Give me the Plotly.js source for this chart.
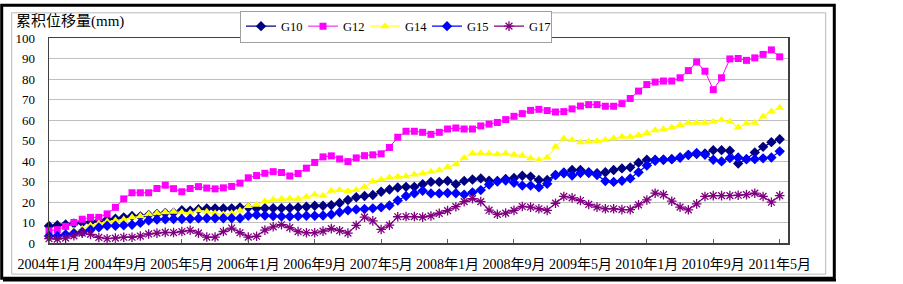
<!DOCTYPE html>
<html>
<head>
<meta charset="utf-8">
<script src="https://cdn.plot.ly/plotly-3.0.1.min.js"></script>
<style>
  html, body { margin: 0; padding: 0; background: #ffffff; }
  #chart { width: 903px; height: 284px; }
</style>
</head>
<body>
<div id="chart"></div>
<script>
// ---- data ----
const tickLabels = ["2004年1月","2004年9月","2005年5月","2006年1月","2006年9月","2007年5月",
                    "2008年1月","2008年9月","2009年5月","2010年1月","2010年9月","2011年5月"];

// monthly categories, 2004年1月 .. 2011年5月
const categories = [];
for (let y = 2004; y <= 2011; y++) {
  for (let m = 1; m <= 12; m++) {
    if (y === 2011 && m > 5) break;
    categories.push(y + "年" + m + "月");
  }
}

const seriesNames = ["G10", "G12", "G14", "G15", "G17"];

const g10 = [8.3,8.7,9.0,9.5,10,10.3,10.8,11.5,11.8,12.5,13.2,13,13.7,14.2,14.6,14.8,16,15.8,16.5,16.8,
             16.9,16.8,16.9,17.4,17.3,16.9,17,17,17,17.1,17.4,17.7,18.2,18.2,18.5,19.5,21,22.3,22.9,23.4,
             25,26.1,27.1,27.4,27.4,28.7,29.8,29.8,30.3,28.7,30.3,31,31.5,30.4,30.3,31.2,31.7,32.8,32.4,30.7,
             30.7,33.2,34,35.6,35.6,34.5,34,34.5,35.6,36.4,36.9,39.2,40.6,40.6,40.6,40.9,41.7,43,43.4,43.7,
             45.3,45.3,45,38.8,40.9,44.2,46.9,49.2,50.6];

const g12 = [6.0,6.5,8.1,10,11.6,12.5,12.5,14.2,17.4,21.5,24.5,24.5,24.5,26.6,28.2,26.5,25,26.6,27.5,26.8,
             26.4,26.9,27.6,29.2,31.8,32.9,34,34.8,34.4,32.7,33.9,36.5,39.3,42,42.5,41,39.7,41.5,42.6,43,
             43.5,46.6,51.6,54.5,54.5,54,53,54,55.6,56.1,55.6,55.6,57.1,58,58.8,60.2,61.8,63.1,64.7,65.2,
             64.6,63.9,64.1,65.4,66.8,67.5,67.5,66.7,66.7,68,70.5,74.1,77.3,78.5,79,79,80.6,84.1,88.3,83.8,
             74.8,80.6,89.8,90,89.1,90.3,92,94.2,90.8];

const g14 = [2.5,2.8,4.5,6,7,8.5,9.5,10.5,11,11.5,12.5,13,14,14.5,15,15.2,15,14.8,16,15.3,
             14.5,14,14.5,15.8,18,18.7,20.4,21.2,21.5,21.7,21.6,22.5,23.6,23,25.5,25.9,25.4,25.8,27.4,30,
             31,31.9,32.3,32.6,33.4,33.9,34.7,35.5,37.1,38.4,41.5,43.7,43.8,43.6,43.3,43.7,43,42.6,41.4,40.5,
             41.7,46.9,51,50.2,49.1,49.4,49.8,50.3,51.1,51.8,51.8,52.5,53.6,55,55.5,56.3,57.6,58.7,58.7,58.7,
             59.2,60,59.2,56.3,58.3,58.7,61.7,64.1,66];

const g15 = [3.4,3.4,4.2,4.8,5.4,6.5,7.6,8.4,8.4,8.6,8.9,9.8,11,11.5,11.6,11.7,11.7,11.8,12,12.1,
             12.1,12.1,12.1,12.1,13.3,13.7,13.4,13.2,12.9,12.9,13.1,13.3,13.3,13.4,13.9,15,16,16.4,16.6,16.9,
             17.4,18.3,20.7,22.9,24.2,25.5,24.2,24.2,24.4,24.3,23.6,24.7,25.8,28.5,30,30.5,29.4,28,28,27.2,
             28.9,33.1,34.4,32.9,34.1,34.1,33.2,30.2,29.8,30.4,31.5,34.5,37.8,40.1,40.6,40.9,41.7,42.9,43.9,43,
             40.6,39.8,41.4,41.7,40.9,40.9,41.3,41.7,44.7];

const g17 = [2.1,1.9,2.4,3.5,4.8,4.2,2.7,2.1,2.4,2.8,2.8,3.4,4.4,4.8,5.2,5.1,5.6,6.2,4.8,2.9,
             2.9,5.6,7.3,5,2.9,3.3,6.3,7.9,8.9,7.5,5.6,5,5,5.8,7,6,4.8,8.6,12.6,10.8,
             6.6,8.7,12.8,12.9,12.9,12.6,13.2,14.5,15.8,17.7,20.2,21.6,20.2,16,14,14.6,15.9,17.8,17.5,16.7,
             15.9,19.4,22.7,22,20.7,18.8,17.5,16.7,16.7,16.3,16.3,18.6,21,24.3,23.6,20.4,17.5,16.2,19.1,22.7,
             23.1,23.1,23.1,23.3,23.6,24.3,22.7,19.9,23.1];

const yTitle = "累积位移量(mm)";

// ---- styles ----
const FONT = '"Liberation Serif", "Noto Sans CJK SC", serif';
const styles = [
  {color: "#000080", symbol: "diamond",       size: 8, lw: 1.2},
  {color: "#FF00FF", symbol: "square",        size: 7, lw: 1.0},
  {color: "#FFFF00", symbol: "triangle-up",   size: 8, lw: 1.0},
  {color: "#0000FF", symbol: "diamond",       size: 8, lw: 1.2},
  {color: "#800080", symbol: "asterisk-open", size: 8, lw: 1.2}
];
const values = [g10, g12, g14, g15, g17];

const traces = values.map((v, k) => ({
  type: "scatter",
  mode: "lines+markers",
  name: seriesNames[k],
  x: categories.slice(0, v.length),
  y: v,
  cliponaxis: false,
  line: {color: styles[k].color, width: styles[k].lw},
  marker: {
    symbol: styles[k].symbol,
    size: styles[k].size,
    color: styles[k].color,
    line: {color: styles[k].color, width: styles[k].symbol === "asterisk-open" ? 1.3 : 0}
  }
}));

// pixel -> paper helpers (plot area spans x 49..788, y 37..243)
const L = 49, R = 788, T = 37, B = 243;
const px = v => (v - L) / (R - L);
const py = v => (B - v) / (B - T);

const layout = {
  width: 903, height: 284,
  margin: {l: L, r: 903 - R, t: T, b: 284 - B, pad: 0},
  paper_bgcolor: "#ffffff",
  plot_bgcolor: "#ffffff",
  font: {family: FONT, size: 13, color: "#000000"},
  showlegend: true,
  legend: {
    orientation: "h",
    x: px(240), y: py(10.5), xanchor: "left", yanchor: "top",
    bgcolor: "#ffffff", bordercolor: "#a0a0a0", borderwidth: 1,
    font: {family: FONT, size: 12.5, color: "#000000"},
    itemwidth: 30,
    entrywidth: 17, entrywidthmode: "pixels"
  },
  xaxis: {
    type: "category",
    categoryorder: "array",
    categoryarray: categories,
    range: [0, 89],
    tickmode: "array",
    tickvals: tickLabels,
    ticktext: tickLabels,
    ticks: "inside", ticklen: 4, tickcolor: "#606060", tickwidth: 1,
    showgrid: false, zeroline: false,
    showline: true, mirror: true, linecolor: "#404040", linewidth: 1.5,
    tickfont: {family: FONT, size: 14, color: "#000000"},
    ticklabelstandoff: 8,
    fixedrange: true
  },
  yaxis: {
    range: [0, 100],
    dtick: 10, tick0: 0,
    ticks: "", showgrid: true, gridcolor: "#c0c0c0", gridwidth: 1,
    zeroline: false,
    showline: true, mirror: true, linecolor: "#404040", linewidth: 1.5,
    tickfont: {family: FONT, size: 13, color: "#000000"},
    ticklabelstandoff: 10,
    fixedrange: true
  },
  annotations: [{
    text: yTitle, showarrow: false,
    xref: "paper", yref: "paper",
    x: px(14), y: py(30.5), xanchor: "left", yanchor: "bottom",
    font: {family: FONT, size: 15, color: "#000000"}
  }],
  shapes: [
    // inner light-grey chart-area border
    {type: "rect", xref: "paper", yref: "paper", layer: "below",
     x0: px(11.7), x1: px(825.7), y0: py(11.7), y1: py(274.3),
     line: {color: "#b8b8b8", width: 1}},
    // outer black frame
    {type: "rect", xref: "paper", yref: "paper", layer: "above",
     x0: px(1.7), x1: px(834.3), y0: py(4.2), y1: py(278.3),
     line: {color: "#000000", width: 3}},
    // shadow at the bottom of the frame
    {type: "line", xref: "paper", yref: "paper", layer: "above",
     x0: px(3), x1: px(836), y0: py(280.5), y1: py(280.5),
     line: {color: "#000000", width: 2.5}}
  ]
};

Plotly.newPlot("chart", traces, layout, {displayModeBar: false, staticPlot: true});
</script>
</body>
</html>
